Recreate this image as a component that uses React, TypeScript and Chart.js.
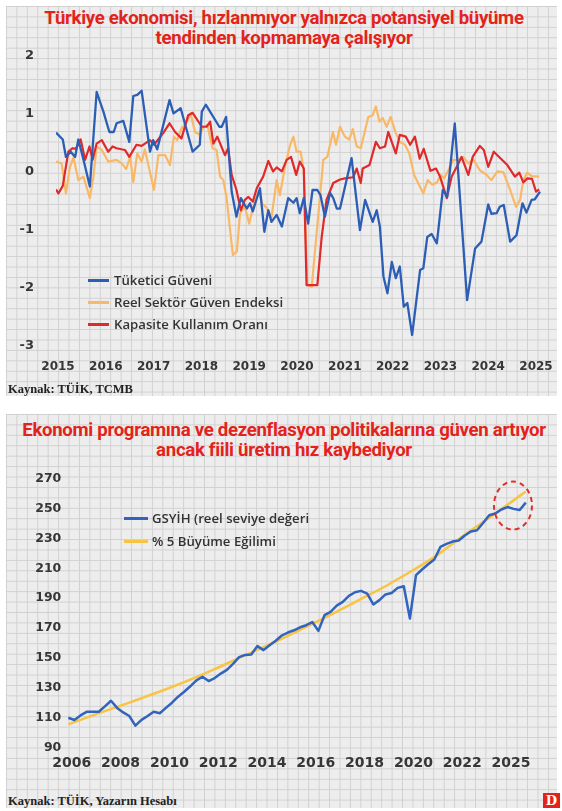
import React, { useEffect, useRef } from "react";
import { Chart, registerables } from "chart.js";

Chart.register(...registerables);

// ================= Panel 1: confidence indicators (standardised) =================
const title1 = ["Türkiye ekonomisi, hızlanmıyor yalnızca potansiyel büyüme", "tendinden kopmamaya çalışıyor"];
const source1 = "Kaynak: TÜİK, TCMB";
const yearTicks1 = [2015, 2016, 2017, 2018, 2019, 2020, 2021, 2022, 2023, 2024, 2025];
const valueTicks1 = [2, 1, 0, -1, -2, -3];
const seriesNames1 = ["Tüketici Güveni", "Reel Sektör Güven Endeksi", "Kapasite Kullanım Oranı"];
const seriesColors1 = ["#2c5eb6", "#f8b868", "#e0292a"];

// x = months since January 2015
const consumerMonths = [-0.5, 1.2, 2, 3.2, 4.3, 5.1, 6.4, 8, 9.7, 11.4, 12.9, 14, 14.7, 16.4, 17.9, 18.9, 19.9, 21, 23.1, 23.9, 24.9, 28, 29, 30.8, 33.8, 35.6, 36.1, 37.1, 40.5, 41.1, 42.2, 43.6, 44.8, 45.9, 47.4, 48.2, 48.9, 50.7, 51.8, 52.8, 53.6, 54.9, 56.2, 57.8, 59.1, 59.9, 60.7, 61.7, 62.8, 63.9, 65.1, 65.9, 67, 68.3, 69.1, 70, 70.8, 73.7, 75.8, 77.1, 79, 80, 80.8, 81.7, 82.7, 83.8, 84.8, 85.8, 86.8, 87.7, 88.9, 90.9, 91.7, 92.7, 93.8, 95.1, 96.6, 97.7, 99.6, 102.7, 104.7, 106.3, 108, 108.8, 110.1, 110.9, 111.9, 113.5, 115.1, 116.6, 117.6, 118.9, 119.7, 121];
const consumerValues = [0.68, 0.56, 0.26, 0.35, 0.26, 0.56, 0.21, -0.25, 1.38, 1.04, 0.69, 0.69, 0.84, 0.88, 0.52, 1.31, 1.33, 1.4, 0.35, 0.55, 0.39, 1.24, 1.01, 1.1, 0.35, 0.47, 1.04, 1.16, 0.78, 0.78, 0.95, -0.34, -0.77, -0.45, -0.63, -0.54, -0.68, -0.28, -1.03, -0.66, -0.86, -0.74, -0.94, -0.45, -0.53, -0.45, -0.71, -0.45, -0.89, -0.31, -0.31, -0.4, -0.77, -0.36, -0.45, -0.63, -0.63, 0.24, -1.0, -0.48, -0.86, -0.66, -0.94, -1.8, -2.09, -1.55, -1.83, -1.63, -2.32, -2.26, -2.81, -1.69, -1.66, -1.12, -1.07, -1.23, -0.31, -0.43, 0.84, -2.21, -1.32, -1.2, -0.56, -0.72, -0.71, -0.6, -0.57, -1.2, -1.09, -0.54, -0.7, -0.48, -0.47, -0.34];

const realSectorMonths = [-0.5, 0.9, 2, 3, 3.9, 5.1, 6.4, 8, 8.9, 9.7, 11, 12.6, 14.7, 16, 17.1, 18.1, 18.9, 19.9, 21, 21.8, 24.1, 25.2, 26.9, 28.1, 29.1, 29.9, 31, 32.7, 33.3, 34.4, 35.6, 36.5, 37.5, 38.8, 39.8, 40.7, 41.5, 42.3, 43.2, 43.9, 44.9, 45.7, 46.9, 48, 49, 50.3, 51.3, 52.4, 53.6, 54.9, 55.7, 57, 58.2, 59.1, 59.9, 60.9, 61.7, 62.6, 63.7, 66.6, 67.6, 69, 69.8, 70.8, 72, 73.1, 74, 75, 76, 77.9, 79, 79.8, 80.7, 81.5, 82.5, 83.5, 84.8, 85.8, 87.1, 88.2, 89.4, 90.4, 91.7, 92.8, 94, 95.1, 96.1, 96.9, 98, 99.2, 100.5, 101.7, 103, 104.2, 105.9, 107.6, 108.8, 110.3, 111.8, 113.5, 115, 116, 116.8, 117.8, 118.9, 120.8];
const realSectorValues = [0.18, 0.15, -0.37, 0.09, 0.25, -0.14, -0.08, -0.45, -0.08, 0.44, 0.38, 0.18, 0.21, 0.15, 0.05, 0.26, -0.17, 0.32, 0.18, 0.39, -0.31, 0.29, 0.29, 0.12, 0.61, 0.55, 0.75, 0.91, 1.01, 0.69, 0.64, 0.78, 0.81, 0.41, 0.38, -0.08, -0.14, -0.43, -1.0, -1.43, -1.37, -0.71, -0.6, -0.89, -0.6, -0.34, -0.55, -0.62, -0.78, -0.14, -0.4, 0.1, 0.45, 0.61, 0.35, 0.35, 0.03, -1.95, -1.98, 0.21, 0.26, 0.69, 0.47, 0.78, 0.61, 0.56, 0.74, 0.44, 0.41, 0.95, 0.98, 1.13, 0.87, 0.93, 0.78, 0.95, 0.67, 0.52, 0.47, 0.32, -0.05, -0.19, -0.37, -0.14, -0.22, -0.18, -0.05, -0.11, 0.03, 0.21, 0.21, 0.26, 0.15, 0.22, 0.03, -0.05, -0.14, 0.01, 0.0, -0.31, -0.6, -0.48, -0.14, -0.01, -0.07, -0.08];

const capacityMonths = [-0.5, 0.1, 1.2, 2.6, 3.7, 4.5, 5.7, 6.8, 7.9, 8.7, 9.7, 11, 12.6, 13.7, 14.7, 16.8, 17.9, 19.7, 21, 23.1, 24.1, 26.4, 28, 29.4, 31, 32.7, 33.8, 36.1, 37.3, 38.2, 39, 40, 41.9, 42.7, 43.6, 44.8, 45.9, 46.9, 47.8, 48.9, 49.9, 51.5, 52.8, 54, 54.9, 56.2, 57.4, 58.5, 59.8, 60.7, 61.7, 62.4, 65.1, 66.2, 67.4, 69.1, 70.8, 72, 74.1, 75, 76, 76.5, 78.2, 79.8, 80.8, 82.1, 82.9, 84.8, 85.8, 87.3, 88.4, 89.6, 90.8, 91.8, 93.5, 94.9, 95.9, 97.6, 98.8, 100.1, 101.3, 103, 104.1, 105.9, 106.9, 108, 109.4, 111, 112.8, 114.7, 115.8, 116.8, 117.8, 119, 120, 120.8];
const capacityValues = [-0.3, -0.37, -0.24, 0.35, 0.41, 0.4, 0.56, 0.21, 0.44, 0.21, 0.49, 0.55, 0.35, 0.44, 0.41, 0.38, 0.26, 0.47, 0.45, 0.55, 0.47, 0.67, 0.84, 0.69, 0.58, 0.98, 1.02, 0.78, 0.78, 0.87, 0.49, 0.61, 0.29, 0.41, -0.05, -0.31, -0.66, -0.48, -0.43, -0.51, -0.28, -0.08, 0.19, 0.01, 0.08, 0.01, 0.21, 0.26, -0.05, 0.18, 0.06, -1.95, -1.95, -1.12, -0.48, -0.19, -0.13, -0.11, -0.09, 0.06, -0.19, 0.06, 0.12, 0.52, 0.41, 0.44, 0.69, 0.32, 0.64, 0.61, 0.47, 0.61, 0.23, 0.4, 0.02, 0.06, -0.08, -0.45, -0.08, 0.09, 0.26, -0.05, 0.26, 0.45, 0.38, 0.09, 0.35, 0.24, 0.12, -0.08, -0.01, -0.18, -0.11, -0.12, -0.34, -0.3];

// ================= Panel 2: GDP level vs 5% trend =================
const title2 = ["Ekonomi programına ve dezenflasyon politikalarına güven artıyor", "ancak fiili üretim hız kaybediyor"];
const source2 = "Kaynak: TÜİK, Yazarın Hesabı";
const seriesNames2 = ["GSYİH (reel seviye değeri", "% 5 Büyüme Eğilimi"];
const seriesColors2 = ["#3264bd", "#f8c443"];
const gdpTickLabels = ["2006", "2008", "2010", "2012", "2014", "2016", "2018", "2020", "2022", "2025"];
const valueTicks2 = [270, 250, 230, 210, 190, 170, 150, 130, 110, 90];
const quarters = Array.from({ length: 76 }, (_, i) => `${2006 + Math.floor(i / 4)}-Ç${(i % 4) + 1}`);
const gdpValues = [109.9, 108.4, 111.5, 113.9, 114.0, 113.9, 117.5, 121.3, 116.5, 113.5, 111.1, 104.6, 108.5, 111.1, 113.9, 112.9, 116.5, 120.0, 124.0, 127.3, 131.0, 135.0, 137.4, 134.5, 136.5, 139.5, 142.0, 146.0, 150.5, 152.0, 152.3, 157.9, 155.2, 158.5, 161.5, 165.0, 167.0, 168.5, 170.5, 171.9, 174.0, 168.1, 178.6, 180.8, 185.0, 187.5, 191.5, 194.0, 194.9, 193.1, 185.8, 188.7, 192.5, 193.5, 196.9, 198.0, 176.4, 205.4, 209.2, 212.7, 215.9, 224.3, 226.3, 227.9, 228.6, 232.0, 234.6, 235.5, 240.3, 245.5, 246.7, 249.4, 251.0, 249.8, 249.0, 254.0];
// trend read once a year (every 4th quarter) plus the last quarter
const trendYearly = [105.5, 111.5, 117.2, 123, 129, 135.5, 142.5, 150, 157.2, 164.8, 172.8, 181, 189.5, 198, 207.5, 217.5, 229.5, 241, 252.5];
const trendLast = 261.5;
// highlighted recent slowdown (quarter index, level)
const highlightIndex = 72.9;
const highlightLevel = 252;

const tickColor = "#363636";
const tickFamily = "'DejaVu Sans', sans-serif";

const paper: React.CSSProperties = {
  position: "absolute",
  backgroundColor: "#ededed",
  backgroundImage:
    "linear-gradient(to right, #d0d0d0 1px, transparent 1px), linear-gradient(to bottom, #d0d0d0 1px, transparent 1px)",
  backgroundSize: "10.43px 10.43px",
};

const titleStyle: React.CSSProperties = {
  position: "absolute",
  left: 3,
  width: 562,
  textAlign: "center",
  color: "#e3231b",
  fontFamily: "Roboto, 'Liberation Sans', sans-serif",
  fontWeight: 700,
  fontSize: 18.6,
  lineHeight: "19.5px",
  letterSpacing: "-0.3px",
  whiteSpace: "nowrap",
};

const sourceStyle: React.CSSProperties = {
  position: "absolute",
  left: 8,
  fontFamily: "'Liberation Serif', 'DejaVu Serif', serif",
  fontWeight: 700,
  fontSize: 12.5,
  color: "#222",
  lineHeight: "14px",
  whiteSpace: "nowrap",
};

const legendText: React.CSSProperties = {
  position: "absolute",
  fontFamily: "'Open Sans', sans-serif",
  fontWeight: 600,
  fontSize: 13.2,
  color: "#333",
  lineHeight: "18px",
  whiteSpace: "nowrap",
};

export default function App() {
  const topRef = useRef<HTMLCanvasElement | null>(null);
  const bottomRef = useRef<HTMLCanvasElement | null>(null);

  useEffect(() => {
    const pts = (xs: number[], ys: number[]) => xs.map((x, i) => ({ x, y: ys[i] }));

    const top = new Chart(topRef.current as HTMLCanvasElement, {
      type: "line",
      data: {
        datasets: [
          { label: seriesNames1[0], data: pts(consumerMonths, consumerValues), borderColor: seriesColors1[0], borderWidth: 2.3, order: 0 },
          { label: seriesNames1[1], data: pts(realSectorMonths, realSectorValues), borderColor: seriesColors1[1], borderWidth: 2.2, order: 2 },
          { label: seriesNames1[2], data: pts(capacityMonths, capacityValues), borderColor: seriesColors1[2], borderWidth: 2.2, order: 1 },
        ],
      },
      options: {
        animation: false,
        responsive: false,
        maintainAspectRatio: false,
        elements: { point: { radius: 0 }, line: { tension: 0, borderJoinStyle: "round" } },
        layout: { padding: { top: 16, right: 20, bottom: 0, left: 0 } },
        plugins: { legend: { display: false }, tooltip: { enabled: false }, title: { display: false } },
        scales: {
          x: {
            type: "linear",
            min: -0.5,
            max: 121.5,
            afterBuildTicks: (s: any) => {
              s.ticks = yearTicks1.map((y) => ({ value: (y - 2015) * 12 }));
            },
            afterFit: (s: any) => {
              s.height = 44;
            },
            ticks: {
              callback: (v: any) => String(2015 + Math.round(Number(v) / 12)),
              color: tickColor,
              font: { family: tickFamily, size: 12, weight: "bold" },
              padding: 2,
              maxRotation: 0,
              autoSkip: false,
            },
            grid: { display: false, drawTicks: true, tickLength: 12 },
            border: { display: false },
          },
          y: {
            min: -3,
            max: 2,
            afterBuildTicks: (s: any) => {
              s.ticks = valueTicks1.map((v) => ({ value: v }));
            },
            afterFit: (s: any) => {
              s.width = 56;
            },
            ticks: {
              callback: (v: any) => String(v),
              color: tickColor,
              font: { family: tickFamily, size: 13, weight: "bold" },
              padding: 2,
            },
            grid: { display: false, drawTicks: true, tickLength: 20 },
            border: { display: false },
          },
        },
      },
    });

    const trendValues: (number | null)[] = quarters.map(() => null);
    trendYearly.forEach((v, k) => {
      trendValues[k * 4] = v;
    });
    trendValues[quarters.length - 1] = trendLast;

    const highlight = {
      id: "highlight",
      afterDatasetsDraw(chart: any) {
        const { ctx, scales } = chart;
        const cx = scales.x.getPixelForValue(highlightIndex);
        const cy = scales.y.getPixelForValue(highlightLevel);
        ctx.save();
        ctx.strokeStyle = "#e0302b";
        ctx.lineWidth = 2;
        ctx.setLineDash([5, 4]);
        ctx.beginPath();
        ctx.ellipse(cx, cy, 19, 24, 0, 0, Math.PI * 2);
        ctx.stroke();
        ctx.restore();
      },
    };

    const bottom = new Chart(bottomRef.current as HTMLCanvasElement, {
      type: "line",
      data: {
        labels: quarters,
        datasets: [
          { label: seriesNames2[0], data: gdpValues, borderColor: seriesColors2[0], borderWidth: 2.5, order: 0 },
          { label: seriesNames2[1], data: trendValues, borderColor: seriesColors2[1], borderWidth: 2.5, order: 1, spanGaps: true, tension: 0.3 },
        ],
      },
      options: {
        animation: false,
        responsive: false,
        maintainAspectRatio: false,
        elements: { point: { radius: 0 }, line: { tension: 0, borderJoinStyle: "round" } },
        layout: { padding: { top: 23.7, right: 36.2, bottom: 0, left: 0 } },
        plugins: { legend: { display: false }, tooltip: { enabled: false } },
        scales: {
          x: {
            type: "category",
            offset: false,
            afterFit: (s: any) => {
              s.height = 37.5;
            },
            ticks: {
              callback: (_v: any, i: number) => (i % 8 === 0 ? gdpTickLabels[i / 8] : null),
              color: tickColor,
              font: { family: tickFamily, size: 14, weight: "bold" },
              padding: 7,
              labelOffset: 3.5,
              maxRotation: 0,
              autoSkip: false,
            },
            grid: { display: false, drawTicks: false },
            border: { display: false },
          },
          y: {
            min: 90,
            max: 270,
            afterBuildTicks: (s: any) => {
              s.ticks = valueTicks2.map((v) => ({ value: v }));
            },
            afterFit: (s: any) => {
              s.width = 68.3;
            },
            ticks: {
              callback: (v: any) => String(v),
              color: tickColor,
              font: { family: tickFamily, size: 12.5, weight: "bold" },
              padding: 7,
            },
            grid: { display: false, drawTicks: false },
            border: { display: false },
          },
        },
      },
      plugins: [highlight],
    });

    return () => {
      top.destroy();
      bottom.destroy();
    };
  }, []);

  const legend1Y = [280, 302, 324];
  const legend2Y = [518, 541];

  return (
    <div style={{ position: "absolute", left: 0, top: 0, width: 562, height: 811, background: "#fff", overflow: "hidden" }}>
      <div style={{ ...paper, left: 6, top: 6, width: 551, height: 390 }} />
      <div style={{ ...paper, left: 6, top: 414, width: 551, height: 394 }} />

      <div style={{ ...titleStyle, top: 9 }}>
        {title1[0]}
        <br />
        {title1[1]}
      </div>
      <div style={{ ...titleStyle, top: 421 }}>
        {title2[0]}
        <br />
        {title2[1]}
      </div>

      <canvas ref={topRef} width={562} height={350} style={{ position: "absolute", left: 0, top: 40, width: 562, height: 350 }} />
      <canvas ref={bottomRef} width={562} height={330} style={{ position: "absolute", left: 0, top: 455, width: 562, height: 330 }} />

      {seriesNames1.map((name, i) => (
        <React.Fragment key={name}>
          <div style={{ position: "absolute", left: 88, top: legend1Y[i] - 1.5, width: 21, height: 3, background: seriesColors1[i] }} />
          <div style={{ ...legendText, left: 114, top: legend1Y[i] - 9 }}>{name}</div>
        </React.Fragment>
      ))}
      {seriesNames2.map((name, i) => (
        <React.Fragment key={name}>
          <div style={{ position: "absolute", left: 124, top: legend2Y[i] - 1.5, width: 24, height: 3, background: seriesColors2[i] }} />
          <div style={{ ...legendText, left: 152, top: legend2Y[i] - 9 }}>{name}</div>
        </React.Fragment>
      ))}

      <div style={{ ...sourceStyle, top: 382 }}>{source1}</div>
      <div style={{ ...sourceStyle, top: 794 }}>{source2}</div>

      <div
        style={{
          position: "absolute",
          left: 543,
          top: 793,
          width: 17,
          height: 15,
          background: "#e3231b",
          color: "#fff",
          fontFamily: "'DejaVu Serif', serif",
          fontWeight: 700,
          fontSize: 13,
          lineHeight: "15px",
          textAlign: "center",
        }}
      >
        D
      </div>
    </div>
  );
}
